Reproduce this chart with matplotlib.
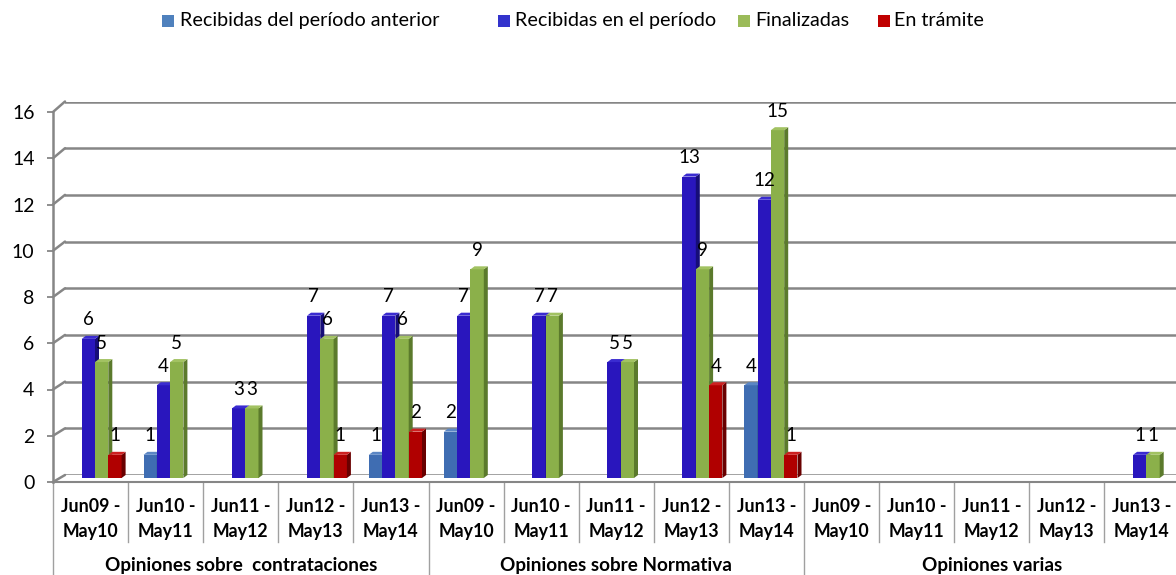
import matplotlib
matplotlib.use('Agg')
import matplotlib.pyplot as plt
from matplotlib.patches import Polygon, Rectangle, ConnectionPatch
from matplotlib.lines import Line2D
from matplotlib import transforms as mtransforms

plt.rcParams['font.family'] = ['Lato', 'DejaVu Sans']

# ---------------- data ----------------
group_names = ['Opiniones sobre  contrataciones', 'Opiniones sobre Normativa', 'Opiniones varias']
period_labels = ['Jun09 -\nMay10', 'Jun10 -\nMay11', 'Jun11 -\nMay12', 'Jun12 -\nMay13', 'Jun13 -\nMay14']
series_names = ['Recibidas del período anterior', 'Recibidas en el período', 'Finalizadas', 'En trámite']
anterior    = [0, 1, 0, 0, 1,   2, 0, 0, 0, 4,    0, 0, 0, 0, 0]
recibidas   = [6, 4, 3, 7, 7,   7, 7, 5, 13, 12,  0, 0, 0, 0, 1]
finalizadas = [5, 5, 3, 6, 6,   9, 7, 5, 9, 15,   0, 0, 0, 0, 1]
tramite     = [1, 0, 0, 1, 2,   0, 0, 0, 4, 1,    0, 0, 0, 0, 0]
y_ticks = [0, 2, 4, 6, 8, 10, 12, 14, 16]

series_values = [anterior, recibidas, finalizadas, tramite]
front_colors = ['#3f6db2', '#2916bd', '#8bb04a', '#b00000']
side_colors  = ['#274a80', '#160d78', '#5b7a2c', '#690000']
top_colors   = ['#5b86c4', '#3a2bd0', '#a2c262', '#cc2020']
legend_colors = ['#4f81bd', '#3333cc', '#9bbb59', '#c00000']

# ---------------- layout (pixels) ----------------
W, H, DPI = 1176, 575, 100
fig = plt.figure(figsize=(W / DPI, H / DPI), dpi=DPI)
fig.patch.set_facecolor('white')

def box(left, right, bottom_y, top_y):
    return [left / W, (H - bottom_y) / H, (right - left) / W, (bottom_y - top_y) / H]

cat_w = 75.1
n_cat = len(recibidas)
grid_col = '#868686'

# back wall with gridlines
ax_back = fig.add_axes(box(65, 1300, 475, 101.5), zorder=0)
ax_back.set_ylim(0, 16)
ax_back.set_xlim(0, 1)
ax_back.set_yticks(y_ticks)
ax_back.set_xticks([])
ax_back.grid(axis='y', color=grid_col, lw=1.8)
ax_back.tick_params(left=False, labelleft=False)
for s in ax_back.spines.values():
    s.set_visible(False)
ax_back.patch.set_visible(False)

# front axis with tick labels
ax_front = fig.add_axes(box(53, 1300, 482, 112), zorder=2)
ax_front.set_ylim(0, 16)
ax_front.set_xlim(0, 1)
ax_front.set_yticks(y_ticks)
ax_front.set_yticklabels([str(t) for t in y_ticks])
ax_front.set_xticks([])
ax_front.patch.set_visible(False)
for side in ['top', 'right']:
    ax_front.spines[side].set_visible(False)
ax_front.spines['left'].set_color(grid_col)
ax_front.spines['left'].set_linewidth(1.8)
ax_front.spines['bottom'].set_color(grid_col)
ax_front.spines['bottom'].set_linewidth(1.5)
ax_front.tick_params(axis='y', length=4.3, width=1.3, color=grid_col,
                     labelsize=14, pad=9, labelcolor='black')

# depth lines connecting front ticks to back gridlines
for t in y_ticks:
    con = ConnectionPatch(xyA=(0, t), coordsA=ax_front.get_yaxis_transform(),
                          xyB=(0, t), coordsB=ax_back.get_yaxis_transform(),
                          color=grid_col, lw=1.8, zorder=1)
    fig.add_artist(con)

# bar plane
ax = fig.add_axes(box(53, 53 + n_cat * cat_w, 478, 107), zorder=1)
ax.set_xlim(0, n_cat)
ax.set_ylim(0, 16)
ax.axis('off')
ax.patch.set_visible(False)

px_x = 1.0 / cat_w            # data units per pixel in x
px_y = 16.0 / 371.0           # data units per pixel in y
bar_w = 13.3 * px_x
first_off = 15.4 * px_x
depth_x = 4.0 * px_x
depth_y = 3.0 * px_y

for k, vals in enumerate(series_values):
    xs = [i + first_off + k * bar_w for i in range(n_cat)]
    z = 3 + k
    ax.bar(xs, vals, width=bar_w, align='edge', color=front_colors[k],
           linewidth=0, zorder=z)
    for x, v in zip(xs, vals):
        if v <= 0:
            continue
        xr = x + bar_w
        side = Polygon([(xr, 0), (xr, v), (xr + depth_x, v + depth_y), (xr + depth_x, depth_y)],
                       closed=True, facecolor=side_colors[k], edgecolor='none', zorder=z)
        top = Polygon([(x, v), (xr, v), (xr + depth_x, v + depth_y), (x + depth_x, v + depth_y)],
                      closed=True, facecolor=top_colors[k], edgecolor='none', zorder=z)
        ax.add_patch(side)
        ax.add_patch(top)
        ax.annotate(str(v), xy=(x + bar_w / 2, v), xytext=(0, 19),
                    textcoords='offset pixels', ha='center', va='center',
                    fontsize=13.5, color='black', zorder=20, annotation_clip=False)

# category axis labels and separators
blend = mtransforms.blended_transform_factory(ax.transData, fig.transFigure)
def fy(y):
    return 1 - y / H

n_per = len(period_labels)
for i in range(n_cat):
    top_line, bottom_line = period_labels[i % n_per].split('\n')
    ax.text(i + 0.5, fy(507), top_line, transform=blend, ha='center', va='center',
            fontsize=12.8, fontweight='bold', clip_on=False)
    ax.text(i + 0.5, fy(531), bottom_line, transform=blend, ha='center', va='center',
            fontsize=12.8, fontweight='bold', clip_on=False)

sep_col = '#a0a0a0'
for b in range(n_cat + 1):
    y_end = 575 if b % n_per == 0 else 542
    ln = Line2D([b, b], [fy(482), fy(y_end)], transform=blend, color=sep_col,
                lw=1.0, clip_on=False)
    ax.add_line(ln)

for g, name in enumerate(group_names):
    ax.text(g * n_per + n_per / 2, fy(566), name, transform=blend, ha='center',
            va='center', fontsize=13.6, fontweight='bold', clip_on=False)

# legend (manual, top)
leg_sq_x = [162, 498, 738, 878]
leg_tx_x = [180, 515, 755, 894]
for k, name in enumerate(series_names):
    fig.add_artist(Rectangle((leg_sq_x[k] / W, fy(27)), 12 / W, 12 / H,
                             transform=fig.transFigure, facecolor=legend_colors[k],
                             edgecolor='none'))
    fig.text(leg_tx_x[k] / W, fy(20.5), name, ha='left', va='center', fontsize=14.2)

fig.savefig('out.png', dpi=DPI, facecolor='white')
